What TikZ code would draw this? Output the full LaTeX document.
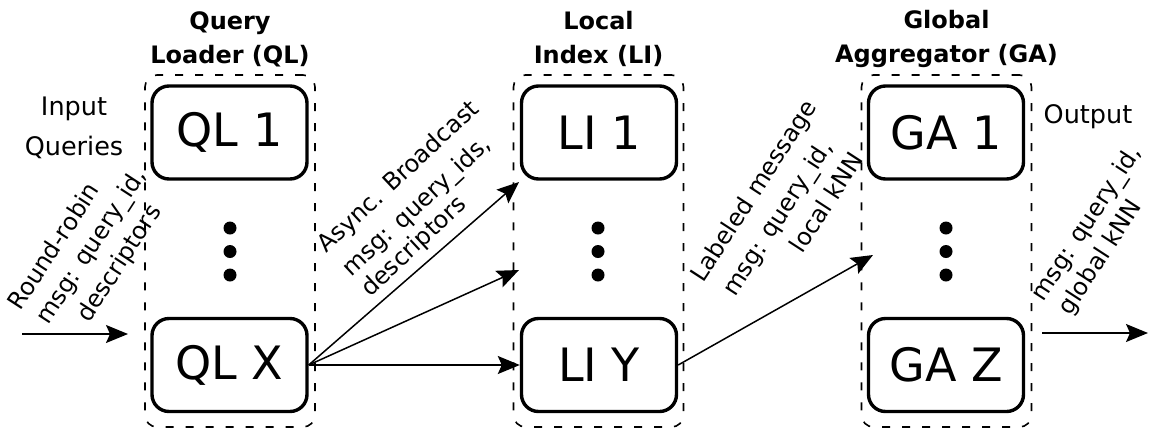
\documentclass[tikz,border=0pt]{standalone}
\usepackage{fontspec}
\setmainfont{DejaVu Sans}
\usetikzlibrary{arrows.meta}
\begin{document}
\begin{tikzpicture}[x=1pt,y=-1pt,
  unit/.style={draw, line width=3.4pt, rounded corners=17pt,
    minimum width=155pt, minimum height=93pt, inner sep=0pt,
    font=\fontsize{46}{46}\selectfont},
  group/.style={draw, line width=1.6pt, rounded corners=12pt,
    dash pattern=on 8pt off 12pt, minimum width=170pt, minimum height=352pt,
    inner sep=0pt},
  title/.style={align=center, inner sep=0pt,
    font=\fontsize{24}{34}\selectfont\bfseries},
  lbl/.style={align=center, inner sep=0pt,
    font=\fontsize{25.5}{40}\selectfont},
  msg/.style={inner sep=0pt, font=\fontsize{24}{30}\selectfont},
  link/.style={line width=1.5pt,
    -{Stealth[length=22pt, width=18pt, inset=4pt]}},
  dot/.style={circle, fill, minimum size=13pt, inner sep=0pt}
]
\useasboundingbox (0,0) rectangle (1149,432);

% stage containers
\node[group] (gql) at (230,251) {};
\node[group] (gli) at (598.5,251) {};
\node[group] (gga) at (946.5,251) {};

% stage titles
\node[title] (tql) at (230,39) {Query\\Loader (QL)};
\node[title] (tli) at (598.5,39) {Local\\Index (LI)};
\node[title] (tga) at (946.5,39) {Global\\Aggregator (GA)};

% worker instances
\node[unit] (ql1) at (229.5,132.5) {QL 1};
\node[unit] (qlx) at (229.5,365) {QL X};
\node[unit] (li1) at (599,132.5) {LI 1};
\node[unit] (liy) at (599,365) {LI Y};
\node[unit] (ga1) at (946,132.5) {GA 1};
\node[unit] (gaz) at (946,365) {GA Z};

% ellipses between first and last instance
\foreach \x/\n in {230/q,598/l,946/g}{
  \node[dot] (\n d1) at (\x,228) {};
  \node[dot] (\n d2) at (\x,251.5) {};
  \node[dot] (\n d3) at (\x,275) {};
}

% external input / output
\node[lbl] (inq) at (74,128) {Input\\Queries};
\node[lbl, anchor=base] (outq) at (1088,123) {Output};

\coordinate (insrc) at (22,334);
\coordinate (indst) at (128,334);
\coordinate (outsrc) at (1042,333);
\coordinate (outdst) at (1148,333);
\coordinate (lihi) at (519,182);
\coordinate (limid) at (519,270);
\coordinate (gamid) at (873,255);

% message flows
\draw[link] (insrc) -- (indst);
\draw[link] (qlx.east) -- (lihi);
\draw[link] (qlx.east) -- (limid);
\draw[link] (qlx.east) -- (liy.west);
\draw[link] (liy.east) -- (gamid);
\draw[link] (outsrc) -- (outdst);

% message annotations, one line each
\node[msg, rotate=57] (m1a) at (53,246) {Round-robin};
\node[msg, rotate=57] (m1b) at (92.5,247) {msg: query\_id,};
\node[msg, rotate=57] (m1c) at (120,264) {descriptors};

\node[msg, rotate=43] (m2a) at (399,177.5) {Async. Broadcast};
\node[msg, rotate=43] (m2b) at (417.5,207) {msg: query\_ids,};
\node[msg, rotate=43] (m2c) at (414.5,247) {descriptors};

\node[msg, rotate=57] (m3a) at (755,192) {Labeled message};
\node[msg, rotate=57] (m3b) at (779,219) {msg: query\_id,};
\node[msg, rotate=57] (m3c) at (826,202) {local kNN};

\node[msg, rotate=57] (m4a) at (1087.5,224) {msg: query\_id,};
\node[msg, rotate=57] (m4b) at (1101,258) {global kNN};
\end{tikzpicture}
\end{document}
